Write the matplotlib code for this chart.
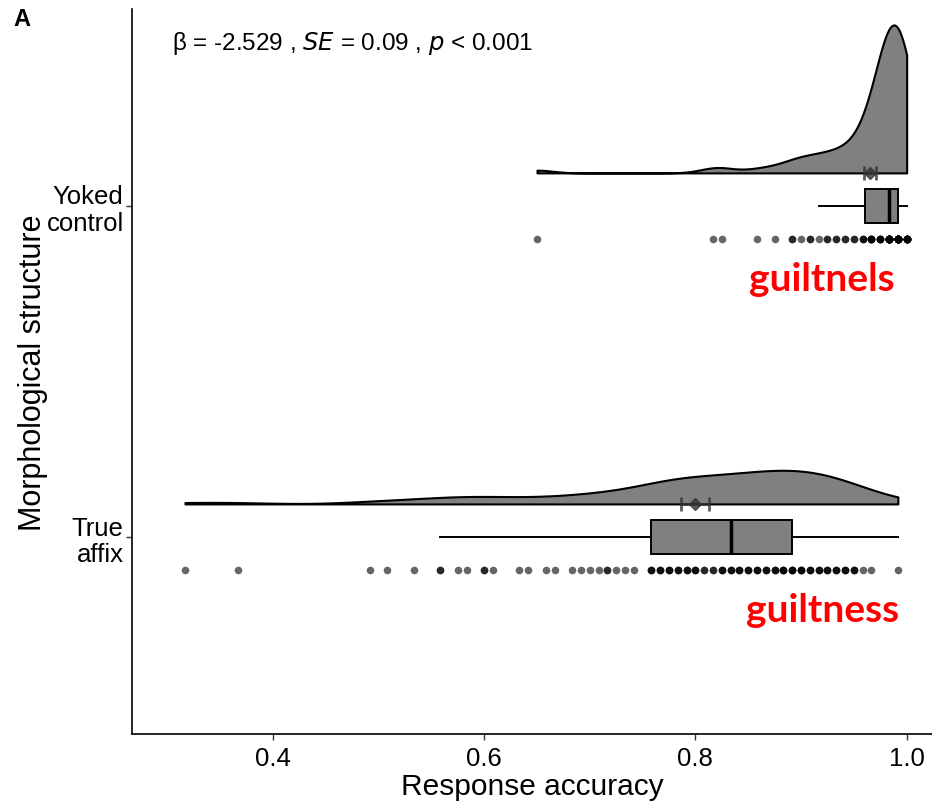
import numpy as np
import matplotlib.pyplot as plt

plt.rcParams['font.family'] = ['Liberation Sans', 'DejaVu Sans']

n_trials = 120
group_labels = ['True\naffix', 'Yoked\ncontrol']
item_words = ['guiltness', 'guiltnels']
stat_label = r'β = -2.529 , $\it{SE}$ = 0.09 , $\it{p}$ < 0.001'

# correct responses out of 120, and how many participants scored that
true_affix_correct = [38, 44, 59, 61, 64, 67, 69, 70, 72, 73, 76, 77, 79, 80, 82, 83, 84, 85, 86, 87, 88, 89,
                      91, 92, 93, 94, 95, 96, 97, 98, 99, 100, 101, 102, 103, 104, 105, 106, 107,
                      108, 109, 110, 111, 112, 113, 114, 115, 116, 119]
true_affix_count = [1, 1, 1, 1, 1, 2, 1, 1, 2, 1, 1, 1, 1, 1, 1, 1, 1, 1, 2, 1, 1, 1,
                    3, 3, 3, 3, 3, 3, 2, 2, 3, 3, 3, 3, 3, 3, 3, 4, 4,
                    4, 3, 3, 3, 3, 3, 3, 1, 1, 1]
yoked_correct = [78, 98, 99, 103, 105, 107, 108, 109, 110, 111, 112, 113, 114,
                 115, 116, 117, 118, 119, 120]
yoked_count = [1, 1, 1, 1, 1, 2, 1, 2, 1, 2, 2, 2, 2,
               3, 6, 5, 19, 21, 13]

# kernel bandwidth multiplier on R's bw.nrd0, per group
bw_adjust = [1.0, 1.75]


def expand(correct, count):
    return np.repeat(np.array(correct, dtype=float), count) / n_trials


def kde_nrd0(x, adjust=1.0):
    # gaussian density, trimmed to the data range
    n = len(x)
    iqr = np.subtract(*np.percentile(x, [75, 25]))
    bw = adjust * 0.9 * min(np.std(x, ddof=1), iqr / 1.34) * n ** -0.2
    grid = np.linspace(x.min(), x.max(), 512)
    dens = np.exp(-0.5 * ((grid[:, None] - x[None, :]) / bw) ** 2).sum(axis=1)
    dens /= n * bw * np.sqrt(2 * np.pi)
    return grid, dens


data = [expand(true_affix_correct, true_affix_count), expand(yoked_correct, yoked_count)]
positions = [1, 2]
kdes = [kde_nrd0(d, a) for d, a in zip(data, bw_adjust)]
dmax = max(k[1].max() for k in kdes)

fig = plt.figure(figsize=(9.32, 8.03), dpi=100)
ax = fig.add_axes([0.1416, 0.0847, 0.8584, 0.9028])

grey = '#808080'
for pos, d, (grid, dens) in zip(positions, data, kdes):
    base = pos + 0.1
    ax.fill_between(grid, base, base + dens / dmax * 0.447, facecolor=grey,
                    edgecolor='black', linewidth=1.5, zorder=2)
    # mean +/- standard error
    se = np.std(d, ddof=1) / np.sqrt(len(d))
    ax.errorbar(d.mean(), base, xerr=se, fmt='D', color='#333333', alpha=0.8,
                markersize=6, capsize=5, elinewidth=2, capthick=2, zorder=4)
    # raw points
    ax.scatter(d, np.full(len(d), pos - 0.1), s=30, color='black', alpha=0.6,
               linewidths=0, zorder=3)

ax.boxplot(data, positions=positions, orientation='horizontal', widths=0.1,
           patch_artist=True, showfliers=False, showcaps=False, whis=1.5,
           boxprops=dict(facecolor=grey, edgecolor='black', linewidth=1.4),
           medianprops=dict(color='black', linewidth=2.5),
           whiskerprops=dict(color='black', linewidth=1.4), zorder=3)

ax.set_xlim(0.2665, 1.024)
ax.set_ylim(0.405, 2.595)
ax.set_xticks([0.4, 0.6, 0.8, 1.0])
ax.set_xticklabels(['0.4', '0.6', '0.8', '1.0'])
ax.set_yticks(positions)
ax.set_yticklabels(group_labels, ha='right', linespacing=1.15)
ax.tick_params(axis='both', labelsize=18.5, length=4, width=1, color='#333333',
               labelcolor='black')
ax.tick_params(axis='y', pad=2)
ax.tick_params(axis='x', pad=5)
ax.spines['top'].set_visible(False)
ax.spines['right'].set_visible(False)
ax.spines['left'].set_linewidth(1.2)
ax.spines['bottom'].set_linewidth(1.2)
ax.set_xlabel('Response accuracy', fontsize=21.5, labelpad=1)
ax.set_ylabel('Morphological structure', fontsize=22, labelpad=-1)

ax.text(0.304, 2.495, stat_label, fontsize=17.5, ha='left', va='center')
for pos, word in zip(positions, item_words):
    ax.text(0.92, pos - 0.22, word, color='red', fontsize=28, fontweight='bold',
            family=['Lato', 'DejaVu Sans'], ha='center', va='center')

fig.text(22 / 932, 1 - 20 / 803, 'A', fontsize=17, fontweight='bold', ha='center', va='center')

fig.savefig('out.png', dpi=100)
